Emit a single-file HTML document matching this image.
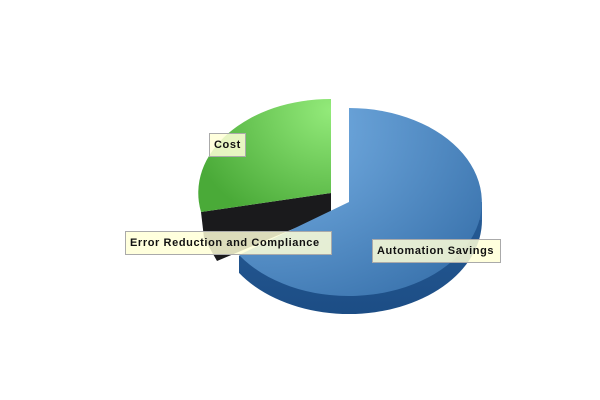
<!DOCTYPE html>
<html><head><style>
body{margin:0;background:#fff;width:600px;height:400px;overflow:hidden;position:relative;font-family:"Liberation Sans",sans-serif}
.l{position:absolute;background:rgba(255,255,215,0.85);border:1px solid #aaa;font-size:11px;font-weight:bold;color:#111;line-height:22px;padding:0 4px;box-sizing:border-box;height:24px;letter-spacing:0.6px;white-space:nowrap}
</style></head><body>
<svg width="600" height="400" style="position:absolute;left:0;top:0">
<defs>
<radialGradient id="bl" cx="0.1" cy="0.1" r="1.1"><stop offset="0" stop-color="#7db6ea"/><stop offset="1" stop-color="#3a73ad"/></radialGradient>
<linearGradient id="bs" x1="0" y1="0" x2="0" y2="1"><stop offset="0" stop-color="#2f66a2"/><stop offset="1" stop-color="#1c4d85"/></linearGradient>
<radialGradient id="gr" cx="1" cy="0.1" r="1.1"><stop offset="0" stop-color="#93ea7a"/><stop offset="1" stop-color="#4aaa38"/></radialGradient>
<clipPath id="c"><polygon points="349,195 499,195 499,330 239,330 239,256 349,203"/></clipPath>
</defs>
<g clip-path="url(#c)">
<ellipse cx="349" cy="220" rx="133" ry="94" fill="url(#bs)"/>
<rect x="349" y="202" width="133" height="18" fill="#2f66a2"/>
</g>
<path d="M331,193 L201,212 L204,238 L217,261 L331,213 Z" fill="#1a1a1c"/>
<path d="M331,193 L331,99 A132,94 0 0 0 201,212 Z" fill="url(#gr)"/>
<path d="M349,202 L349,108 A133,94 0 1 1 239,255 Z" fill="url(#bl)"/>
</svg>
<div class="l" style="left:209px;top:133px;width:37px">Cost</div>
<div class="l" style="left:125px;top:231px;width:207px">Error Reduction and Compliance</div>
<div class="l" style="left:372px;top:239px;width:129px">Automation Savings</div>
</body></html>
